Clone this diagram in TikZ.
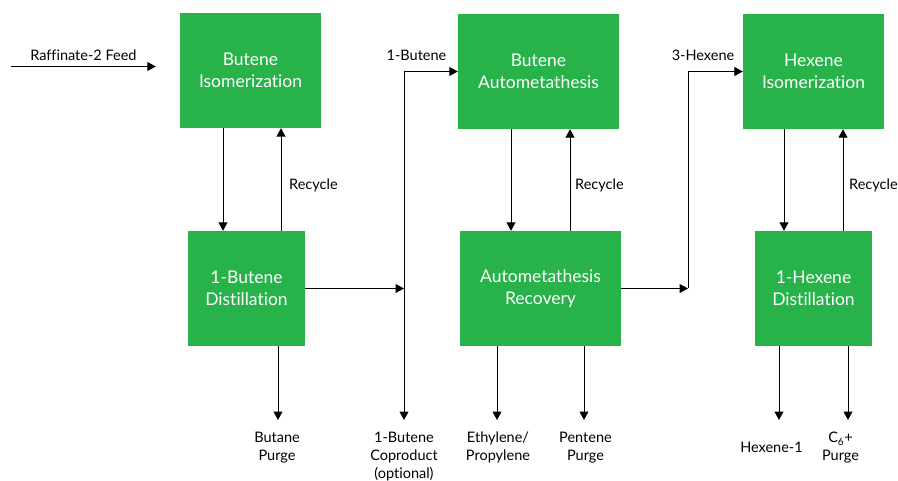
\documentclass[tikz,border=0pt]{standalone}
\usepackage{fontspec}
\setmainfont{Lato}[Ligatures=NoCommon]
\usetikzlibrary{calc,arrows.meta,positioning}
\definecolor{procgreen}{RGB}{39,178,74}
\tikzset{unit/.style={fill=procgreen, text=white, align=center, minimum height=115pt, inner sep=0pt, font=\fontsize{17.5}{22}\selectfont},
  lbl/.style={align=center, inner sep=0pt, font=\fontsize{14.5}{18}\selectfont},
  flow/.style={-{Triangle[length=8.5pt,width=9pt]}, line width=1pt}}

\begin{document}
\begin{tikzpicture}[x=1pt,y=-1pt]
    \useasboundingbox (0,0) rectangle (898,481);
    % process units
    \node[unit, minimum width=141pt] (BI) at (250.5,70.5) {Butene\\Isomerization};
    \node[unit, minimum width=117pt] (BD) at (246.5,288.5) {1-Butene\\Distillation};
    \node[unit, minimum width=161pt] (AM) at (538.5,71.5) {Butene\\Autometathesis};
    \node[unit, minimum width=161pt] (AR) at (540.5,288.5) {Autometathesis\\Recovery};
    \node[unit, minimum width=141pt] (HI) at (813.5,71.5) {Hexene\\Isomerization};
    \node[unit, minimum width=117pt] (HD) at (813.5,288.5) {1-Hexene\\Distillation};
    % stream labels
    \node[lbl, anchor=north] (lbB) at (416.5,50) {1-Butene};
    \node[lbl, anchor=north] (lbH) at (703,50) {3-Hexene};
    \node[lbl, anchor=west] (rc1) at (289,185.5) {Recycle};
    \node[lbl, anchor=west] (rc2) at (575,185.5) {Recycle};
    \node[lbl, anchor=west] (rc3) at (849,185.5) {Recycle};
    \node[lbl, anchor=north] (bp) at (277,432) {Butane\\Purge};
    \node[lbl, anchor=north] (cop) at (404,432) {1-Butene\\Coproduct\\(optional)};
    \node[lbl, anchor=north] (ep) at (498,432) {Ethylene/\\Propylene};
    \node[lbl, anchor=north] (pp) at (585.5,432) {Pentene\\Purge};
    \node[lbl, anchor=north] (hx) at (771.5,441.5) {Hexene-1};
    \node[lbl, anchor=north] (cp) at (840.5,432) {C\textsubscript{6}+\\Purge};
    \coordinate (feed) at (11,66.5);
    \coordinate (J1) at (404,288.5);
    \coordinate (J2) at (688,288.5);
    \coordinate (outlev) at (0,420);
    % feed
    \draw[flow] (feed) -- ([xshift=-24pt]BI.west |- feed) node[lbl, midway, above=5.5pt] {Raffinate-2 Feed};
    % isomerization / distillation loop
    \draw[flow] ([xshift=-27.5pt]BI.south) -- ([xshift=-27.5pt]BI.south |- BD.north);
    \draw[flow] ([xshift=30.5pt]BI.south |- BD.north) -- ([xshift=30.5pt]BI.south);
    \draw[flow] ([xshift=31.5pt]BD.south) -- ([xshift=31.5pt]BD.south |- outlev);
    \draw[flow] (BD.east) -- (J1);
    \draw[flow] (J1 |- AM.west) -- (AM.west);
    \draw[flow] (J1 |- AM.west) -- (J1 |- outlev);
    % autometathesis loop
    \draw[flow] ([xshift=-27.5pt]AM.south) -- ([xshift=-27.5pt]AM.south |- AR.north);
    \draw[flow] ([xshift=31.5pt]AM.south |- AR.north) -- ([xshift=31.5pt]AM.south);
    \draw[flow] ([xshift=-43.5pt]AR.south) -- ([xshift=-43.5pt]AR.south |- outlev);
    \draw[flow] ([xshift=43.5pt]AR.south) -- ([xshift=43.5pt]AR.south |- outlev);
    \draw[flow] (AR.east) -- (J2);
    \draw[flow] (J2) |- (HI.west);
    % hexene loop
    \draw[flow] ([xshift=-29.5pt]HI.south) -- ([xshift=-29.5pt]HI.south |- HD.north);
    \draw[flow] ([xshift=29.5pt]HI.south |- HD.north) -- ([xshift=29.5pt]HI.south);
    \draw[flow] ([xshift=-34.5pt]HD.south) -- ([xshift=-34.5pt]HD.south |- outlev);
    \draw[flow] ([xshift=34.5pt]HD.south) -- ([xshift=34.5pt]HD.south |- outlev);
\end{tikzpicture}
\end{document}
